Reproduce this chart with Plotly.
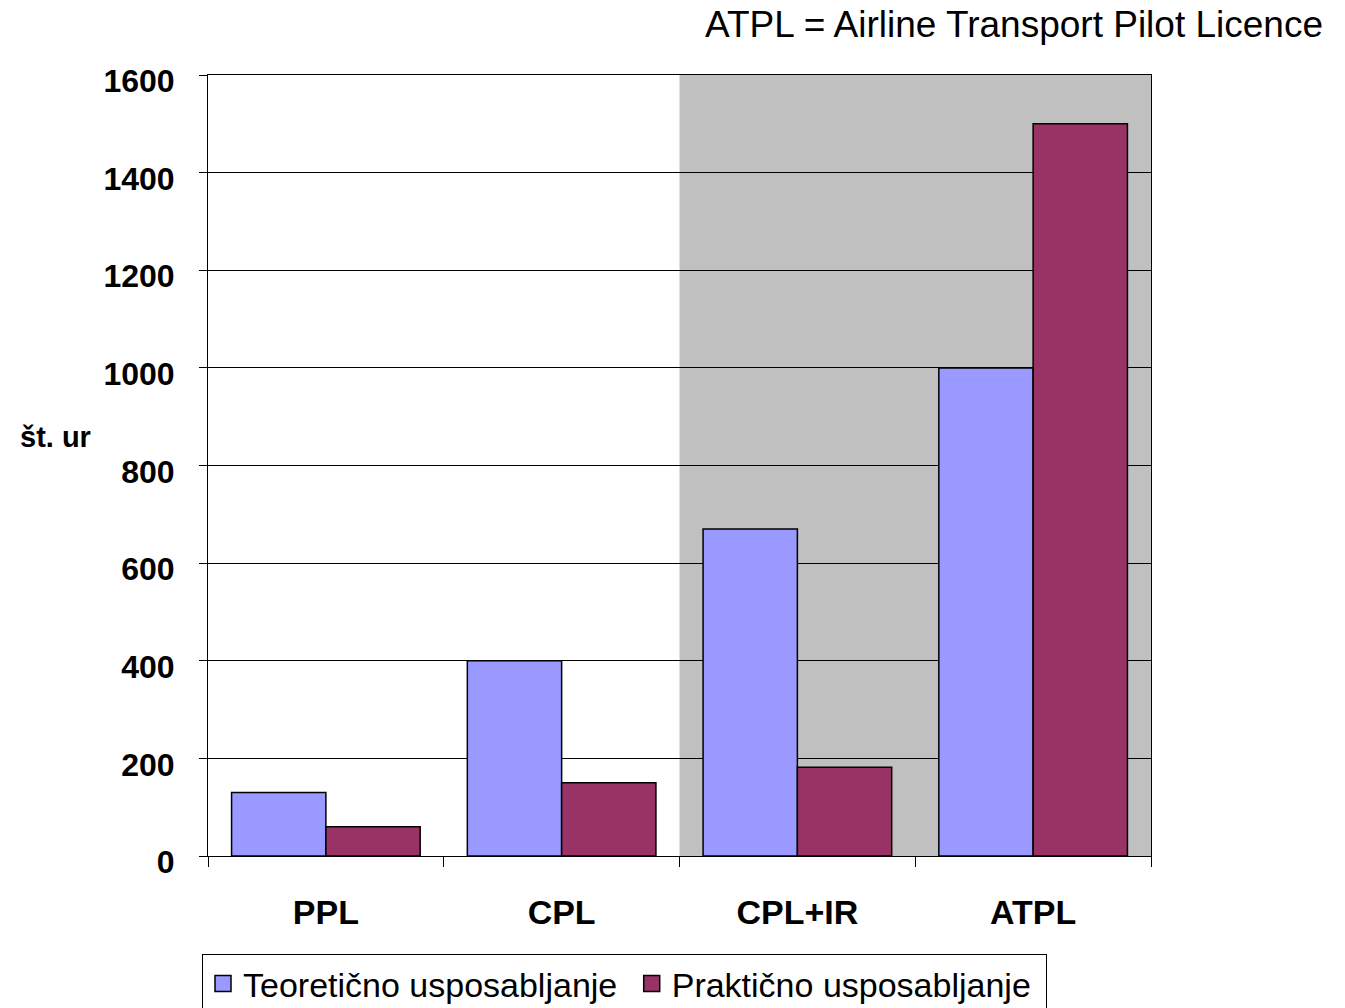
import plotly.graph_objects as go

categories = ["PPL", "CPL", "CPL+IR", "ATPL"]
teoreticno = [130, 400, 670, 1000]
prakticno = [60, 150, 182, 1500]
series_names = ["Teoretično usposabljanje\u00a0", "Praktično usposabljanje\u00a0"]
colors = ["#9999FF", "#993366"]
y_ticks = [0, 200, 400, 600, 800, 1000, 1200, 1400, 1600]

FONT = "Liberation Sans, Arial, sans-serif"

fig = go.Figure()
for vals, name, col in zip([teoreticno, prakticno], series_names, colors):
    fig.add_trace(go.Bar(x=categories, y=vals, name=name, showlegend=False,
                         marker=dict(color=col, line=dict(color="#000000", width=1.5))))
# legend entries with larger square symbols
for name, col in zip(series_names, colors):
    fig.add_trace(go.Scatter(x=[None], y=[None], mode="markers", name=name,
                             marker=dict(symbol="square", size=22, color=col,
                                         line=dict(color="black", width=1.5))))

# grey shaded region behind CPL+IR and ATPL
fig.add_shape(type="rect", xref="x", yref="paper", x0=1.5, x1=3.5, y0=0, y1=1,
              fillcolor="#C0C0C0", line=dict(width=0), layer="below")

fig.update_layout(
    width=1345, height=1008,
    margin=dict(l=208, r=194, t=75, b=152, autoexpand=False),
    paper_bgcolor="white", plot_bgcolor="rgba(0,0,0,0)",
    barmode="group", bargap=0.2, bargroupgap=0,
    font=dict(family=FONT, color="black"),
    showlegend=True,
    legend=dict(orientation="h", x=(202 - 208) / 943, y=(856 - 954) / 781,
                yanchor="top", xanchor="left",
                font=dict(size=34, family=FONT, color="black"),
                bordercolor="black", borderwidth=1, bgcolor="rgba(255,255,255,0)",
                itemwidth=30),
    xaxis=dict(type="category", showline=True, linecolor="black", linewidth=1,
               mirror=True, ticks="outside", ticklen=10, tickcolor="black",
               tickson="boundaries", showgrid=False,
               tickfont=dict(size=34, family=FONT, color="black", weight="bold"),
               ticklabelstandoff=26),
    yaxis=dict(range=[0, 1600], tickvals=y_ticks, showline=True, linecolor="black",
               linewidth=1, mirror=True, ticks="outside", ticklen=8, tickcolor="black",
               showgrid=True, gridcolor="black", gridwidth=1, zeroline=False,
               tickfont=dict(size=32, family=FONT, color="black", weight="bold"),
               ticklabelstandoff=18, ticklabelshift=6),
)

fig.add_annotation(text="<b>št. ur</b>", xref="paper", yref="paper",
                   x=(55 - 208) / 943, y=(856 - 437) / 781, xanchor="center", yanchor="middle",
                   showarrow=False, font=dict(size=29, color="black"))
fig.add_annotation(text="ATPL = Airline Transport Pilot Licence", xref="paper", yref="paper",
                   x=(1325 - 208) / 943, y=(856 - 25) / 781, xanchor="right", yanchor="middle",
                   showarrow=False, font=dict(size=37, color="black"))

fig.write_html("out.html", config={"displayModeBar": False},
               post_script="document.body.style.margin='0';document.body.style.overflow='hidden';")
